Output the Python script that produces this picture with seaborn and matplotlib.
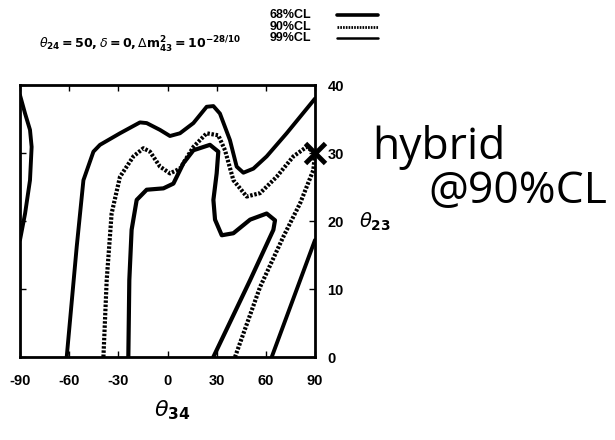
import matplotlib
matplotlib.use("Agg")
import matplotlib.pyplot as plt
from matplotlib.lines import Line2D
import seaborn as sns
import pandas as pd

# Contour boundaries in the (theta34, theta23) plane
cl68_x = [-23.9, -23.3, -21.9, -18.8, -12.7, -2.5, 3.6, 9.7, 15.8, 25.9, 31.0, 30.0, 28.0, 29.0,
          33.1, 40.2, 50.4, 60.5, 65.6, 64.6, 50.4, 28.0]
cl68_y = [0.0, 11.3, 18.7, 23.1, 24.6, 24.8, 25.5, 28.5, 30.4, 31.2, 30.2, 27.0, 23.1, 20.2,
          17.9, 18.2, 20.2, 21.1, 20.1, 18.7, 11.3, 0.0]

cl90_x = [-39.1, -37.1, -34.1, -29.0, -20.8, -14.7, -10.7, -4.6, 1.5, 7.6, 15.8, 23.9, 31.0, 35.1,
          40.2, 48.3, 56.5, 66.6, 76.8, 84.9, 90.0, 89.0, 80.9, 70.7, 56.5, 41.2]
cl90_y = [0.0, 11.3, 21.1, 26.5, 29.5, 30.7, 30.2, 28.0, 27.0, 27.7, 30.9, 32.9, 32.6, 30.4,
          26.0, 23.6, 24.1, 26.5, 29.5, 30.9, 30.0, 27.5, 22.6, 17.7, 10.3, 0.0]

cl99_x = [-61.5, -55.4, -51.3, -45.2, -41.2, -29.0, -16.8, -12.7, -4.6, 1.5, 7.6, 15.8, 23.9, 28.0,
          32.0, 38.1, 42.2, 46.3, 52.4, 60.5, 72.7, 90.0]
cl99_y = [0.0, 16.2, 26.0, 30.2, 31.2, 32.9, 34.5, 34.4, 33.4, 32.5, 32.9, 34.4, 36.8, 36.9,
          35.8, 31.9, 28.0, 27.1, 27.7, 29.5, 32.9, 38.0]
cl99_left_x = [-90.0, -86.9, -83.9, -82.9, -83.9, -86.9, -90.0]
cl99_left_y = [38.5, 35.8, 33.4, 30.9, 26.0, 21.1, 17.2]
cl99_right_x = [90.0, 63.6]
cl99_right_y = [17.2, 0.0]

# Best-fit point of the hybrid model
best_x = [90.0]
best_y = [30.0]

x_ticks = [-90, -60, -30, 0, 30, 60, 90]
y_ticks = [0, 10, 20, 30, 40]
cl_labels = ["68%CL", "90%CL", "99%CL"]

sns.set_theme(style="white")
plt.rcParams["font.family"] = ["Liberation Sans", "DejaVu Sans"]
plt.rcParams["mathtext.fontset"] = "dejavusans"
plt.rcParams["text.color"] = "black"
plt.rcParams["xtick.color"] = "black"
plt.rcParams["ytick.color"] = "black"

fig = plt.figure(figsize=(6.15, 4.4), dpi=100)
ax = fig.add_axes([20 / 615, 1 - 357 / 440, 295 / 615, 272 / 440])

dotted = (0, (0.6, 0.4))
styles = {
    "68": dict(color="black", linewidth=3.0, linestyle="-"),
    "90": dict(color="black", linewidth=3.0, linestyle=dotted),
    "99": dict(color="black", linewidth=2.8, linestyle="-"),
}

def draw(xs, ys, key):
    df = pd.DataFrame({"x": xs, "y": ys})
    sns.lineplot(data=df, x="x", y="y", sort=False, estimator=None, ax=ax,
                 legend=False, **styles[key])

draw(cl68_x, cl68_y, "68")
draw(cl90_x, cl90_y, "90")
draw(cl99_x, cl99_y, "99")
draw(cl99_left_x, cl99_left_y, "99")
draw(cl99_right_x, cl99_right_y, "99")

ax.plot(best_x, best_y, marker="x", markersize=15, markeredgewidth=3.5,
        color="black", linestyle="none", clip_on=False, zorder=5)

ax.set_xlim(-90, 90)
ax.set_ylim(0, 40)
ax.set_xticks(x_ticks)
ax.set_xticklabels([str(v) for v in x_ticks], fontweight="bold", fontsize=10.5)
ax.set_yticks(y_ticks)
ax.set_yticklabels([str(v) for v in y_ticks], fontweight="bold", fontsize=10.5)
ax.yaxis.tick_right()
ax.tick_params(axis="x", which="both", direction="in", length=4, width=1,
               top=True, bottom=True, pad=12, colors="black")
ax.tick_params(axis="y", which="both", direction="in", length=4, width=1,
               left=True, right=True, labelleft=False, labelright=True, pad=9, colors="black")
ax.set_xlabel("")
ax.set_ylabel("")
for s in ax.spines.values():
    s.set_visible(True)
    s.set_color("black")
    s.set_linewidth(2)

# Axis titles
fig.text(172 / 615, 1 - 410 / 440, r"$\theta_{\mathbf{34}}$", fontsize=16,
         ha="center", va="center")
fig.text(375 / 615, 1 - 222 / 440, r"$\theta_{\mathbf{23}}$", fontsize=14,
         ha="center", va="center")

# Parameter header
fig.text(140 / 615, 1 - 45 / 440,
         r"$\theta_{\mathbf{24}}\mathbf{=50,}\delta\mathbf{=0,}\Delta\mathbf{m}^{\mathbf{2}}_{\mathbf{43}}"
         r"\mathbf{=10}^{\mathbf{-28/10}}$",
         fontsize=9, ha="center", va="center")

# Confidence-level key
key_rows = [15, 27, 38]
key_styles = ["68", "90", "99"]
for lab, row, key in zip(cl_labels, key_rows, key_styles):
    yf = 1 - row / 440
    fig.text(311 / 615, yf, lab, fontsize=9, fontweight="bold", ha="right", va="center")
    st = dict(styles[key])
    st["linewidth"] = {"68": 2.6, "90": 2.0, "99": 1.8}[key]
    fig.add_artist(Line2D([337 / 615, 378 / 615], [yf, yf], transform=fig.transFigure, **st))

# Annotation
fig.text(372 / 615, 1 - 147 / 440, "hybrid", fontsize=32, ha="left", va="center",
         family=["Open Sans", "DejaVu Sans"], fontweight="medium")
fig.text(428 / 615, 1 - 192 / 440, "@90%CL", fontsize=32, ha="left", va="center",
         family=["Open Sans", "DejaVu Sans"], fontweight="medium")

fig.savefig("out.png", dpi=100, facecolor="white")
